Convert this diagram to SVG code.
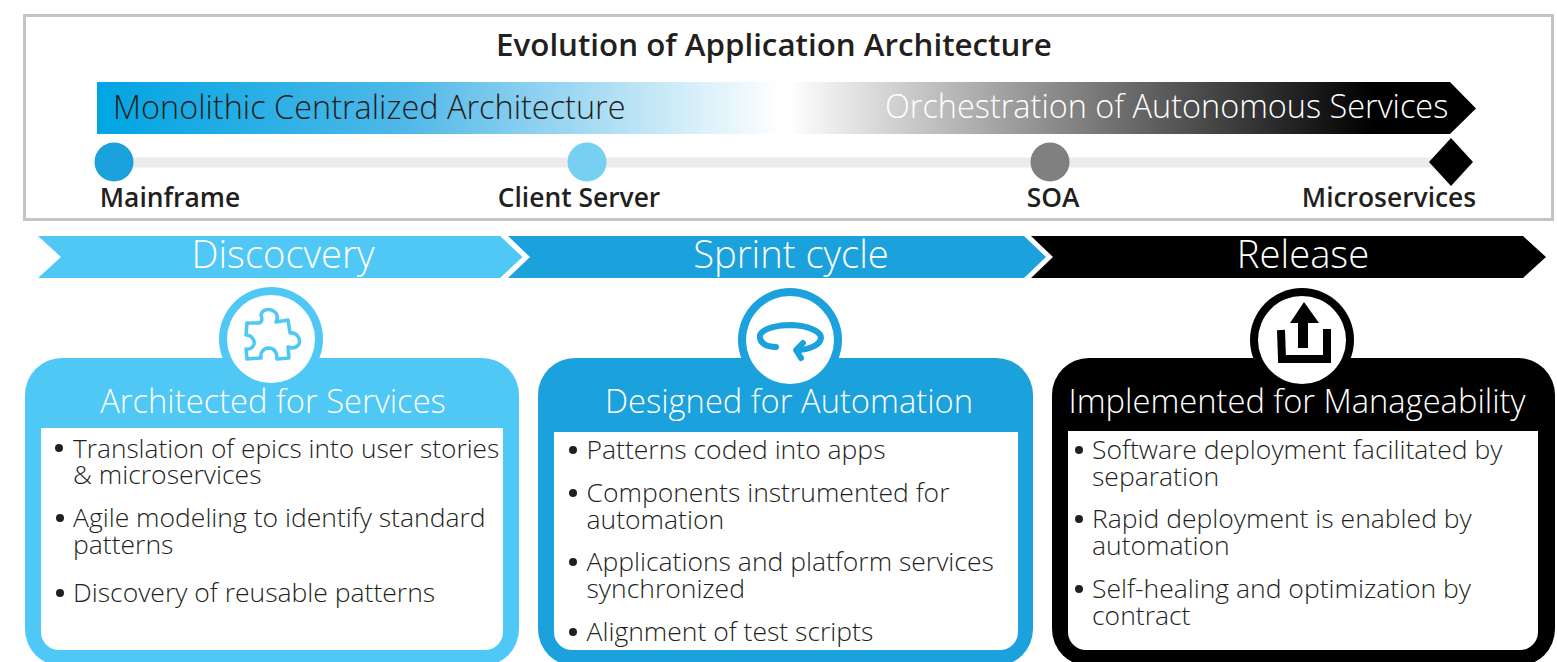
<svg xmlns="http://www.w3.org/2000/svg" width="1557" height="662" viewBox="0 0 1557 662">
<style>
text{font-family:"Open Sans","Noto Sans","DejaVu Sans",sans-serif;fill:#231f20}
.b{font-size:26.500px;font-weight:300;fill:#231f20}
.h{font-size:32.700px;font-weight:300;fill:#fff}
.ban{font-size:38.200px;font-weight:300;fill:#fff;text-anchor:middle}
.lab{font-size:26.400px;font-weight:600;text-anchor:middle}
.bar{font-size:32.450px;font-weight:300}
.dot{fill:#231f20}
.line{fill:none;stroke-linecap:round;stroke-linejoin:round}
</style>
<defs>
<linearGradient id="gl" x1="0" x2="1" y1="0" y2="0"><stop offset="0" stop-color="#00a5e3"/><stop offset="0.45" stop-color="#4fb8e8"/><stop offset="1" stop-color="#fff"/></linearGradient>
<linearGradient id="gr" x1="0" x2="1" y1="0" y2="0"><stop offset="0" stop-color="#fff"/><stop offset="0.85" stop-color="#000"/><stop offset="1" stop-color="#000"/></linearGradient>
</defs>
<rect id="frame" x="24.500" y="15.500" width="1528" height="204" fill="#fff" stroke="#c4c4c4" stroke-width="3"/>
<text x="774" y="55.500" font-size="31.300" font-weight="600" text-anchor="middle">Evolution of Application Architecture</text>
<g id="evolution-bar">
<rect x="97" y="82" width="683" height="52" fill="url(#gl)"/>
<polygon points="788,82 1450,82 1476,108.500 1450,134 788,134" fill="url(#gr)"/>
<text class="bar" x="113" y="118.500">Monolithic Centralized Architecture</text>
<text class="bar" x="885" y="117.500" style="fill:#fff">Orchestration of Autonomous Services</text>
</g>
<g id="connectors"><rect x="114" y="157.500" width="1337" height="10" fill="#ebebeb"/></g>
<g id="mainframe"><circle cx="114" cy="162" r="19.500" fill="#1ba1dc"/><text class="lab" x="170" y="207">Mainframe</text></g>
<g id="client-server"><circle cx="587" cy="162" r="19.500" fill="#77cff2"/><text class="lab" x="579" y="207">Client Server</text></g>
<g id="soa"><circle cx="1050" cy="162" r="19.500" fill="#808080"/><text class="lab" x="1053" y="207">SOA</text></g>
<g id="microservices"><polygon points="1451,138 1473,162 1451,186 1429,162" fill="#000"/><text class="lab" x="1389" y="207">Microservices</text></g>
<g id="discovery-banner"><polygon points="38,236 500,236 522.500,257 500,278 38,278 61,257" fill="#4fc8f5"/><text class="ban" x="283" y="268">Discocvery</text></g>
<g id="sprint-banner"><polygon points="508,236 1024,236 1046,257 1024,278 508,278 530,257" fill="#1ba1dc"/><text class="ban" x="791" y="268">Sprint cycle</text></g>
<g id="release-banner"><polygon points="1031,236 1523,236 1546,257 1523,278 1031,278 1053,257" fill="#000"/><text class="ban" x="1303" y="268">Release</text></g>
<g id="card-services">
<rect x="25" y="358" width="494" height="308" rx="37" fill="#4fc8f5"/>
<circle cx="271" cy="339" r="52" fill="#4fc8f5"/><circle cx="271" cy="339" r="44" fill="#fff"/>
<path class="line" stroke="#4fc8f5" stroke-width="3.500" d="M247,323 L259,323 C263,322 262,318 261,315 C262,309 270,308 275,312 C279,316 277,320 276,322 L288,320 L290,333 C296,332 301,338 299,344 C296,349 291,348 288,347 L289,358 L277,359 C277,352 274,348 268,348 C262,349 260,354 261,358 L247,359 L246,349 C252,350 255,345 254,341 C252,336 249,335 246,335 Z"/>
<text class="h" x="273" y="412.500" text-anchor="middle">Architected for Services</text>
<path d="M41,428 H503 V632 A18,18 0 0 1 485,650 H59 A18,18 0 0 1 41,632 Z" fill="#fff"/>
<circle class="dot" cx="59" cy="448" r="4"/><text class="b" x="73" y="458" style="font-size:26.250px">Translation of epics into user stories</text><text class="b" x="73" y="484">&amp; microservices</text>
<circle class="dot" cx="60" cy="518" r="4"/><text class="b" x="73" y="527">Agile modeling to identify standard</text><text class="b" x="73" y="554">patterns</text>
<circle class="dot" cx="60" cy="593" r="4"/><text class="b" x="73" y="602">Discovery of reusable patterns</text>
</g>
<g id="card-automation">
<rect x="538" y="358" width="495" height="308" rx="37" fill="#1ba1dc"/>
<circle cx="790" cy="340" r="52" fill="#1ba1dc"/><circle cx="790" cy="340" r="44" fill="#fff"/>
<path class="line" stroke="#1ba1dc" stroke-width="6" d="M776,347 C765,347 759,342 760,335 C763,328 778,325 792,325 C808,326 821,331 821,338 C820,345 809,350 797,350"/>
<path class="line" stroke="#1ba1dc" stroke-width="6" d="M803,343 L796,350 L801,358"/>
<text class="h" x="789" y="412.500" text-anchor="middle">Designed for Automation</text>
<path d="M554,432 H1018 V632 A18,18 0 0 1 1000,650 H572 A18,18 0 0 1 554,632 Z" fill="#fff"/>
<circle class="dot" cx="573" cy="450" r="4"/><text class="b" x="586.500" y="459">Patterns coded into apps</text>
<circle class="dot" cx="573" cy="493" r="4"/><text class="b" x="586.500" y="502">Components instrumented for</text><text class="b" x="586.500" y="529">automation</text>
<circle class="dot" cx="573" cy="562" r="4"/><text class="b" x="586.500" y="571">Applications and platform services</text><text class="b" x="586.500" y="598">synchronized</text>
<circle class="dot" cx="573" cy="632" r="4"/><text class="b" x="586.500" y="641">Alignment of test scripts</text>
</g>
<g id="card-manageability">
<rect x="1052" y="358" width="503" height="308" rx="37" fill="#000"/>
<circle cx="1302" cy="340" r="52" fill="#000"/><circle cx="1302" cy="340" r="44" fill="#fff"/>
<path d="M1304,302 L1319,323 L1308,323 L1308,348 L1298,348 L1298,323 L1290,323 Z" fill="#000"/>
<path class="line" style="stroke-linecap:butt;stroke-linejoin:miter" stroke="#000" stroke-width="8" d="M1281,330 L1282,359 L1327,359 L1327,329"/>
<text class="h" x="1297" y="412.500" text-anchor="middle">Implemented for Manageability</text>
<path d="M1068,431 H1538 V632 A18,18 0 0 1 1520,650 H1086 A18,18 0 0 1 1068,632 Z" fill="#fff"/>
<circle class="dot" cx="1079" cy="450" r="4"/><text class="b" x="1092" y="459">Software deployment facilitated by</text><text class="b" x="1092" y="486">separation</text>
<circle class="dot" cx="1079" cy="519" r="4"/><text class="b" x="1092" y="528">Rapid deployment is enabled by</text><text class="b" x="1092" y="555">automation</text>
<circle class="dot" cx="1079" cy="589" r="4"/><text class="b" x="1092" y="598">Self-healing and optimization by</text><text class="b" x="1092" y="625">contract</text>
</g>
</svg>
